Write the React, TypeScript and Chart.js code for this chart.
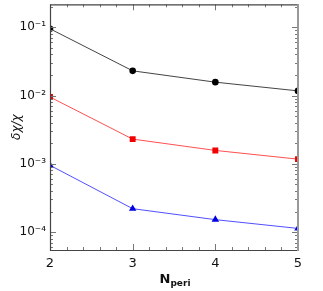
import React, { useEffect, useRef } from "react";
import { Chart, registerables } from "chart.js";

Chart.register(...registerables);

const categories = [2, 3, 4, 5];
const seriesBlack = [0.095, 0.023, 0.0157, 0.0117];
const seriesRed = [0.0095, 0.0023, 0.00157, 0.00117];
const seriesBlue = [0.00095, 0.00022, 0.000152, 0.000113];
const xTickValues = [2, 3, 4, 5];
const xTickLabels = ["2", "3", "4", "5"];
const yTickValues = [1e-4, 1e-3, 1e-2, 1e-1];
const yTickLabels = ["10⁻⁴", "10⁻³", "10⁻²", "10⁻¹"];

const FONT = "'DejaVu Sans', sans-serif";

const framePlugin = {
  id: "framePlugin",
  afterDatasetsDraw(chart: any) {
    const { ctx, chartArea: a, scales } = chart;
    const xs = scales.x;
    const ys = scales.y;
    ctx.save();
    ctx.strokeStyle = "#777";
    ctx.lineWidth = 1;
    const xmin = xs.min, xmax = xs.max;
    for (let v = xmin; v <= xmax + 1e-9; v += 0.2) {
      const px = Math.round(xs.getPixelForValue(v)) + 0.5;
      const major = Math.abs(v - Math.round(v)) < 1e-6;
      const len = major ? 6 : 3;
      ctx.beginPath();
      ctx.moveTo(px, a.bottom);
      ctx.lineTo(px, a.bottom - len);
      ctx.moveTo(px, a.top);
      ctx.lineTo(px, a.top + len);
      ctx.stroke();
    }
    const e0 = Math.floor(Math.log10(ys.min));
    const e1 = Math.ceil(Math.log10(ys.max));
    for (let e = e0; e <= e1; e++) {
      for (let m = 1; m <= 9; m++) {
        const v = m * Math.pow(10, e);
        if (v < ys.min || v > ys.max) continue;
        const py = Math.round(ys.getPixelForValue(v)) + 0.5;
        const len = m === 1 ? 6 : 3;
        ctx.beginPath();
        ctx.moveTo(a.left, py);
        ctx.lineTo(a.left + len, py);
        ctx.moveTo(a.right, py);
        ctx.lineTo(a.right - len, py);
        ctx.stroke();
      }
    }
    ctx.strokeStyle = "#444";
    ctx.lineWidth = 1.2;
    ctx.beginPath();
    ctx.moveTo(a.left + 0.5, a.top + 0.5);
    ctx.lineTo(a.right, a.top + 0.5);
    ctx.moveTo(a.left + 0.5, a.top);
    ctx.lineTo(a.left + 0.5, a.bottom + 0.5);
    ctx.lineTo(a.right, a.bottom + 0.5);
    ctx.stroke();
    ctx.strokeStyle = "#999";
    ctx.lineWidth = 2;
    ctx.beginPath();
    ctx.moveTo(a.right, a.top);
    ctx.lineTo(a.right, a.bottom + 1);
    ctx.stroke();
    ctx.fillStyle = "#111";
    ctx.textBaseline = "alphabetic";
    ctx.font = `bold 13px ${FONT}`;
    const nW = ctx.measureText("N").width;
    ctx.font = `bold 9px ${FONT}`;
    const pW = ctx.measureText("peri").width;
    const cx = (a.left + a.right) / 2 + 1;
    const sx = cx - (nW + pW) / 2;
    ctx.font = `bold 13px ${FONT}`;
    ctx.fillText("N", sx, 283);
    ctx.font = `bold 9px ${FONT}`;
    ctx.fillText("peri", sx + nW, 286);
    ctx.save();
    ctx.translate(20, (a.top + a.bottom) / 2);
    ctx.rotate(-Math.PI / 2);
    ctx.textAlign = "center";
    ctx.font = `italic 12px ${FONT}`;
    ctx.fillText("δχ/χ", 0, 0);
    ctx.restore();
    ctx.restore();
  },
};

export default function App() {
  const ref = useRef<HTMLCanvasElement>(null);
  useEffect(() => {
    document.body.style.margin = "0";
    const canvas = ref.current!;
    const mk = (data: number[], color: string, line: string, style: string, r: number) => ({
      data: categories.map((c, i) => ({ x: c, y: data[i] })),
      borderColor: line,
      borderWidth: 1,
      backgroundColor: color,
      pointBackgroundColor: color,
      pointBorderColor: color,
      pointBorderWidth: 0,
      pointStyle: style,
      pointRadius: r,
      clip: 0,
    });
    const chart = new Chart(canvas, {
      type: "line",
      data: {
        datasets: [
          mk(seriesBlack, "#000", "#444", "circle", 3.3),
          mk(seriesRed, "#f00000", "#ff5050", "rect", 4.2),
          mk(seriesBlue, "#0000e0", "#5050ff", "triangle", 4.3),
        ] as any,
      },
      options: {
        animation: false,
        responsive: false,
        maintainAspectRatio: false,
        layout: { padding: { left: 0, top: 4, right: 25, bottom: 0 } },
        plugins: { legend: { display: false }, tooltip: { enabled: false } },
        scales: {
          x: {
            type: "linear",
            min: 2,
            max: 5,
            afterBuildTicks: (s: any) => {
              s.ticks = xTickValues.map((v) => ({ value: v }));
            },
            afterFit: (s: any) => {
              s.height = 41;
              s.paddingLeft = 0;
              s.paddingRight = 0;
            },
            ticks: {
              padding: 6,
              color: "#111",
              font: { family: FONT, size: 13 },
              maxRotation: 0,
              callback: (v: any) => {
                const i = xTickValues.indexOf(Number(v));
                return i >= 0 ? xTickLabels[i] : "";
              },
            },
            grid: { display: false, drawTicks: false },
            border: { display: false },
          },
          y: {
            type: "logarithmic",
            min: 5.46e-5,
            max: 0.217,
            afterBuildTicks: (s: any) => {
              s.ticks = yTickValues.map((v) => ({ value: v }));
            },
            afterFit: (s: any) => {
              s.width = 50;
              s.paddingTop = 0;
              s.paddingBottom = 0;
            },
            ticks: {
              padding: 4,
              color: "#111",
              font: { family: FONT, size: 12 },
              autoSkip: false,
              callback: (v: any) => {
                const i = yTickValues.findIndex((t) => Math.abs(t - Number(v)) / t < 1e-6);
                return i >= 0 ? yTickLabels[i] : "";
              },
            },
            grid: { display: false, drawTicks: false },
            border: { display: false },
          },
        },
      },
      plugins: [framePlugin],
    });
    return () => chart.destroy();
  }, []);
  return <canvas ref={ref} width={323} height={291} style={{ display: "block", width: 323, height: 291 }} />;
}
